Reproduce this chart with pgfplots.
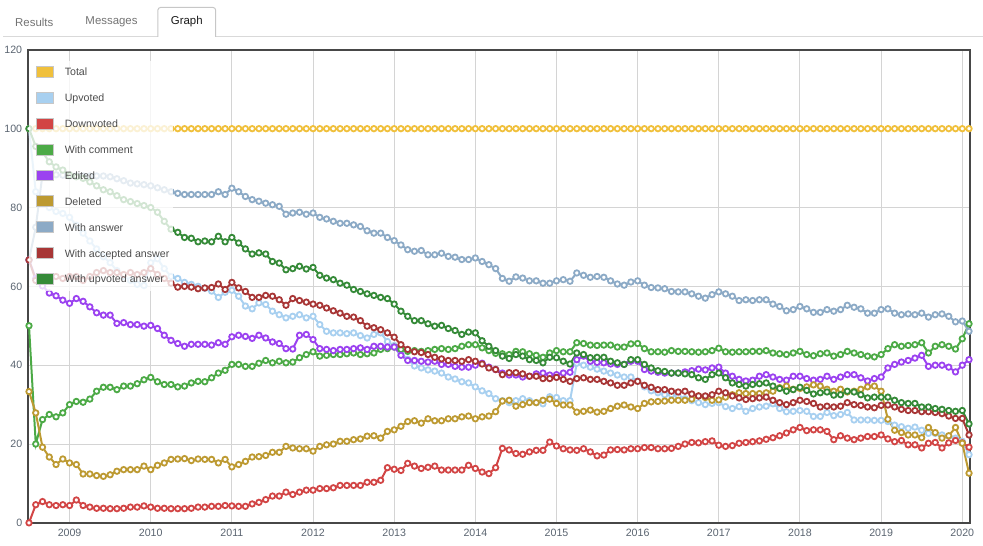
\documentclass[border=0pt]{standalone}
\usepackage{fontspec}
\setmainfont{Liberation Sans}
\usepackage{pgfplots}
\usepackage{pgfplotstable}
\pgfplotsset{compat=1.18}

\definecolor{cTotal}{HTML}{F0C03C}
\definecolor{cUp}{HTML}{A8D0F0}
\definecolor{cDown}{HTML}{D24545}
\definecolor{cCom}{HTML}{4CAA46}
\definecolor{cEd}{HTML}{9B42F0}
\definecolor{cDel}{HTML}{BD9A32}
\definecolor{cAns}{HTML}{8CAAC6}
\definecolor{cAcc}{HTML}{A83636}
\definecolor{cUans}{HTML}{358A38}
\definecolor{tickc}{HTML}{5A6470}

% monthly shares in percent, m = months since July 2008
\pgfplotstableread{
m tot up dn com ed del ans acc uans
0 100 100 0 50 66.7 33.3 66.7 66.7 100
1 100 84 4.6 20.0 62 27.9 75 61.5 95.5
2 100 81 5.4 26.2 60.1 19.2 88.5 62 94
3 100 80 4.6 27.5 58.3 16.7 88.5 61.5 91.6
4 100 79 4.4 26.9 57.6 14.8 88.3 62.5 90.3
5 100 78.5 4.6 27.9 56.5 16.2 88.2 62 89.5
6 100 77.5 4.4 30.0 55.7 15.2 88 62.5 88.2
7 100 75.5 5.8 30.8 56.9 14.8 88 62.5 87.8
8 100 73.5 4.4 30.6 56.2 12.4 88 61.5 87.4
9 100 71.5 4.0 31.4 54.8 12.4 88 62.5 86.5
10 100 69.5 3.7 33.4 53.3 12.0 88 63.5 85.5
11 100 67.5 3.7 34.4 52.7 11.8 88 64 84.5
12 100 66 3.6 34.4 52.7 12.2 87.8 63.5 84
13 100 64 3.6 33.8 50.6 13.1 87.3 63.5 83
14 100 62.5 3.7 34.7 50.8 13.5 86.8 63 82
15 100 61.5 4.0 34.7 50.3 13.5 86.2 63.5 81.5
16 100 60.5 4.0 35.3 50.3 13.5 86 63 81
17 100 60.2 4.3 36.3 49.9 14.4 85.8 63.5 80.5
18 100 66 4.0 36.9 50.1 13.5 85.5 64.5 80
19 100 67 3.7 35.8 49.3 14.6 85 63 78.8
20 100 64.5 3.7 35.1 47.6 15.2 84.5 62 76.5
21 100 62.5 3.6 35.1 46.3 16.1 84 60.8 74.5
22 100 62 3.6 34.5 45.5 16.2 83.6 59.8 73.7
23 100 61 3.6 34.7 44.8 16.3 83.3 60 72.4
24 100 60.5 3.7 35.5 45.3 15.8 83.3 59.8 72.2
25 100 60 4.0 35.9 45.3 16.2 83.3 59.4 71.3
26 100 59.5 4.0 35.8 45.3 16.1 83.3 59.6 71.5
27 100 58.8 4.2 36.8 45.1 16.1 83.3 59.7 71.3
28 100 57.2 4.2 38.0 45.7 15.2 84 60.6 72.7
29 100 58.5 4.4 38.7 45.3 16.1 83.3 59.2 71.3
30 100 59 4.3 40.2 47.2 14.2 84.9 61 72.4
31 100 57.5 4.2 40.2 47.6 14.8 84 59.6 71
32 100 55 4.2 39.7 47.3 15.6 82.8 58.7 69.5
33 100 54.3 4.8 39.7 46.8 16.7 82 57.2 68.2
34 100 55.8 5.2 40.5 47.6 16.8 81.6 57.2 68.5
35 100 55.4 5.9 41.2 46.9 17.1 81.1 57.7 68.2
36 100 53.7 6.8 40.6 45.9 17.9 80.7 57.5 66.3
37 100 52.8 6.8 41.0 45.5 17.9 80.3 56.6 65.9
38 100 52 7.8 40.6 44.2 19.4 78.3 55.2 64.2
39 100 52.4 7.2 40.8 44.1 19.0 78.6 56.9 64.5
40 100 52.8 7.8 41.9 47.6 18.8 78.8 56.4 65.1
41 100 52 8.3 42.7 47.8 18.8 78.3 56 64.4
42 100 52.4 8.3 43.4 46.5 18.2 78.6 55.5 64.8
43 100 50.3 8.7 42.3 44.2 19.4 77.5 55.2 62.8
44 100 48.6 8.7 42.5 44.0 19.8 77.1 54.5 62.1
45 100 48.2 8.9 42.7 43.7 20.0 76.5 53.8 61.7
46 100 48.2 9.5 42.7 44.0 20.7 76 53.2 60.8
47 100 48 9.5 42.9 44.0 20.7 76 52.4 60.3
48 100 48.2 9.5 43.1 44.2 21.1 75.6 52.2 59.2
49 100 47.5 9.5 42.7 44.4 21.3 75.2 51.3 58.7
50 100 46.9 10.3 42.9 44.0 22.0 74.1 49.9 58.1
51 100 47.8 10.3 43.1 44.8 22.1 73.5 49.5 57.7
52 100 48.2 10.8 44.0 44.8 21.5 73.5 49 57.2
53 100 46 14.0 44.2 44.6 23.2 72.4 48.2 56.9
54 100 45 13.6 44.6 44.6 23.6 71.6 47.1 55.5
55 100 43 13.3 44.0 42.5 24.5 70.5 45.2 53.7
56 100 41.5 15.1 43.5 41.2 25.7 69.3 44 52.4
57 100 39.8 14.4 43.7 41.2 25.9 68.9 43.4 51.3
58 100 39.3 13.8 43.5 41.0 25.3 69.1 43.2 51.3
59 100 38.8 14.1 43.7 40.8 26.4 68 42.7 50.5
60 100 38.5 14.4 44.0 41.0 25.9 68 42 49.9
61 100 38 13.4 44.2 40.2 25.9 68.4 41.6 50.1
62 100 37 13.4 44.0 40.2 26.4 67.6 41.2 49.3
63 100 36.5 13.4 44.2 39.7 26.4 67.4 41.2 48.8
64 100 35.8 13.4 44.8 39.5 26.9 66.8 41 47.8
65 100 35.5 14.6 45.2 39.5 27.1 66.8 41.4 48.4
66 100 34.5 13.8 45.2 40.0 26.4 67.2 41 48.2
67 100 33.5 12.9 44.4 40.5 26.9 66.3 40.3 46.2
68 100 32.8 12.5 43.7 39.5 27.1 65.5 39.3 44.8
69 100 31.5 14.0 43.0 38.9 28.2 64.5 38.9 43.7
70 100 31 18.9 42.9 38.0 30.9 62 37.6 42.3
71 100 30.5 18.5 42.7 37.5 31.1 61.3 38.1 41.7
72 100 31 17.6 43.5 37.5 29.6 62.4 38.1 42.7
73 100 31.5 17.4 43.4 37.0 30.0 62.1 37.8 42.3
74 100 31 18.0 42.9 37.2 30.5 61.4 37.2 41.4
75 100 30.5 18.4 42.5 37.8 30.5 61.4 37.2 41.2
76 100 30.2 18.4 42.0 38.0 31.1 60.8 36.6 40.6
77 100 32 20.5 43.1 37.5 31.4 60.8 36.6 42
78 100 31.8 19.5 43.7 37.6 30.3 61.4 36.9 41.9
79 100 31 18.8 43.4 38.0 29.9 61.7 36.4 41
80 100 31 18.5 43.4 38.2 29.9 61.3 35.9 40.3
81 100 40.5 18.4 45.7 41.4 28.1 63.4 36.6 43.1
82 100 40 18.8 45.5 42.3 28.3 62.8 36.8 42.7
83 100 39.5 18.0 45.1 41.0 28.6 62.3 36.4 41.9
84 100 39 17.0 45.0 40.7 28.1 62.5 36.4 42
85 100 38.5 17.2 45.1 40.6 28.3 62.3 35.9 42
86 100 38 18.5 45.1 40.3 29.0 61.4 35.5 41
87 100 37.5 18.6 44.6 40.2 29.6 60.6 34.9 40.6
88 100 37 18.5 44.6 40.2 29.9 60.3 34.9 40.2
89 100 37 18.8 45.4 41.0 29.4 61.1 35.5 41.4
90 100 36 18.8 45.5 41.0 29.0 61.4 35.9 41.4
91 100 34.5 19.1 44.2 38.9 30.3 60.3 34.9 40.2
92 100 33.5 19.1 43.4 38.5 30.7 59.7 34.4 39.3
93 100 33 18.8 43.4 38.2 30.8 59.6 33.8 38.6
94 100 32.5 18.8 43.3 38.0 30.9 59.4 33.8 38.4
95 100 32.5 18.9 43.7 38.0 31.1 58.7 33.4 38
96 100 32 19.4 43.5 38.0 31.1 58.6 33.2 38
97 100 31.5 20.0 43.5 38.3 31.1 58.6 33.4 37.8
98 100 31 20.4 43.4 38.6 31.4 58.1 32.7 37.6
99 100 30.5 20.3 43.3 39.0 32.2 57.5 32.2 36.8
100 100 30 20.6 43.4 38.8 31.8 57 32.2 36.4
101 100 30.3 20.8 43.7 39.3 31.1 57.9 32.5 37.6
102 100 30.5 19.7 44.3 39.5 31.2 58.6 33.4 38
103 100 29.5 19.4 43.4 38.0 31.9 58.1 33 36.8
104 100 29 19.6 43.3 37.2 32.5 57.5 32.2 35.5
105 100 29.5 20.2 43.4 36.4 33.0 56.4 31.7 35.1
106 100 28.3 20.4 43.4 36.0 32.8 56.6 31.3 34.7
107 100 29 20.6 43.5 36.2 32.8 56.4 31.5 35.1
108 100 29.4 20.8 43.5 37.2 32.8 56.6 31.7 35.3
109 100 29.6 21.2 43.7 37.6 33.0 56.6 31.9 35.5
110 100 30.2 21.6 43.1 37.0 33.4 55.5 31.1 34.7
111 100 29 22.1 42.9 36.4 34.3 54.9 30.5 34.1
112 100 28.2 22.8 42.7 36.2 34.7 53.8 30 33.4
113 100 28.3 23.6 43.1 37.2 33.9 54.1 30.5 33.8
114 100 28.5 24.2 43.5 37.2 34.1 54.9 31.1 34.4
115 100 28.3 23.4 42.7 36.6 34.5 54.3 30.8 33.6
116 100 27 23.6 42.4 36.2 35.0 53.4 30.3 32.7
117 100 27 23.6 42.9 36.4 34.7 53.4 29.4 33
118 100 28 23.2 43.1 37.2 33.9 54.1 29.6 33.2
119 100 27.2 21.1 42.3 36.4 33.4 53.7 29.4 32.4
120 100 27.5 22.1 42.7 37.0 33.9 54.1 29.6 32.5
121 100 28 21.5 43.5 37.6 33.2 55.2 30.5 33.4
122 100 26.1 21.1 43.1 37.6 33.4 54.7 30 33.2
123 100 26.1 21.5 42.7 36.8 33.9 54.3 29.8 32.5
124 100 26.1 21.9 42.3 36.0 34.5 53.2 29.4 31.7
125 100 26 21.9 42.1 36.6 34.7 53.2 29.2 31.9
126 100 26 22.3 42.7 37.0 33.4 54.1 29.8 31.9
127 100 25.7 21.3 44.2 39.3 26.3 54.3 29.9 31.9
128 100 24.8 20.6 45.2 40.2 23.5 53.2 29.4 31.1
129 100 24.4 20.9 44.8 40.8 22.9 52.8 28.8 30.5
130 100 24 19.8 45.0 41.2 22.3 53.0 28.5 30.3
131 100 24.3 19.8 45.2 41.8 22.3 52.8 28.5 30.3
132 100 23.5 19.0 45.7 42.5 21.6 53.2 28.2 29.4
133 100 22.7 20.2 43.1 39.7 24.2 52.2 28.2 29.4
134 100 22.7 20.4 44.8 40.0 22.9 52.8 28 29
135 100 22.3 19.0 45.2 40.0 21.5 53.0 27.7 28.8
136 100 22 20.3 44.8 39.5 22.1 52.4 27.1 28.5
137 100 21.5 20.9 44.1 38.3 24.2 51.0 26.5 28.3
138 100 20.7 20.3 46.7 40.0 20.2 51.2 26.5 28.5
139 100 17.3 19.2 50.5 41.4 12.6 48.6 22.3 25.1
}\qdata

\begin{document}
\begin{tikzpicture}
% page laid out in screen pixels, 1px = 0.75pt
\begin{scope}[x=0.75pt,y=-0.75pt]
\useasboundingbox (0,0) rectangle (983,547);
% tab bar
\draw[black!15, line width=0.75pt] (0,37) -- (155,37) (213,37) -- (983,37);
\draw[black!22, line width=0.75pt, rounded corners=2pt] (155,37) -- (155,7.5) -- (213,7.5) -- (213,37);
\node[font=\fontsize{8.6}{10}\selectfont, text=black!55] at (31,22) {Results};
\node[font=\fontsize{8.6}{10}\selectfont, text=black!55] at (108.5,22) {Messages};
\node[font=\fontsize{8.6}{10}\selectfont, text=black!90] at (184,22) {Graph};
\end{scope}

\begin{axis}[
  at={(18.75pt,-393.5pt)}, anchor=south west,
  scale only axis, width=708.75pt, height=356pt,
  xmin=-0.1, xmax=139.15, ymin=0, ymax=120,
  xtick={6,18,...,138},
  xticklabels={2009,2010,2011,2012,2013,2014,2015,2016,2017,2018,2019,2020},
  ytick={0,20,...,120},
  grid=major,
  major grid style={black!17, line width=0.75pt},
  major tick length=0pt,
  axis line style={black!72, line width=1.5pt},
  tick label style={font=\fontsize{8}{9}\selectfont, text=tickc},
  /pgf/number format/assume math mode=true,
  yticklabel style={xshift=-1.1pt},
  xticklabel style={yshift=-1pt},
  every axis plot/.append style={line width=1.5pt, mark=*, mark size=2.05pt,
    mark options={fill=white, line width=1.35pt, solid}},
  legend cell align=left,
  legend style={at={(0,1)}, anchor=north west, yshift=-8.25pt,
    fill=white, fill opacity=0.78, text opacity=1, draw=none,
    inner xsep=3pt, inner ysep=3.75pt, row sep=9.5pt,
    font=\fontsize{8}{9}\selectfont, text=black!70,
    nodes={inner sep=0pt, text height=6.5pt, text depth=2.5pt}},
  legend image code/.code={
    \path (-2.25pt,0) (20.5pt,0);
    \fill[#1, fill opacity=1, draw=black!22, line width=0.75pt] (0pt,-3.1pt) rectangle (12.75pt,5.1pt);
  },
]
\addplot[color=cTotal] table[x=m, y=tot]{\qdata};
\addlegendentry{Total}
\addplot[color=cUp] table[x=m, y=up]{\qdata};
\addlegendentry{Upvoted}
\addplot[color=cDown] table[x=m, y=dn]{\qdata};
\addlegendentry{Downvoted}
\addplot[color=cCom] table[x=m, y=com]{\qdata};
\addlegendentry{With comment}
\addplot[color=cEd] table[x=m, y=ed]{\qdata};
\addlegendentry{Edited}
\addplot[color=cDel] table[x=m, y=del]{\qdata};
\addlegendentry{Deleted}
\addplot[color=cAns] table[x=m, y=ans]{\qdata};
\addlegendentry{With answer}
\addplot[color=cAcc] table[x=m, y=acc]{\qdata};
\addlegendentry{With accepted answer}
\addplot[color=cUans] table[x=m, y=uans]{\qdata};
\addlegendentry{With upvoted answer}
\end{axis}
\end{tikzpicture}
\end{document}
